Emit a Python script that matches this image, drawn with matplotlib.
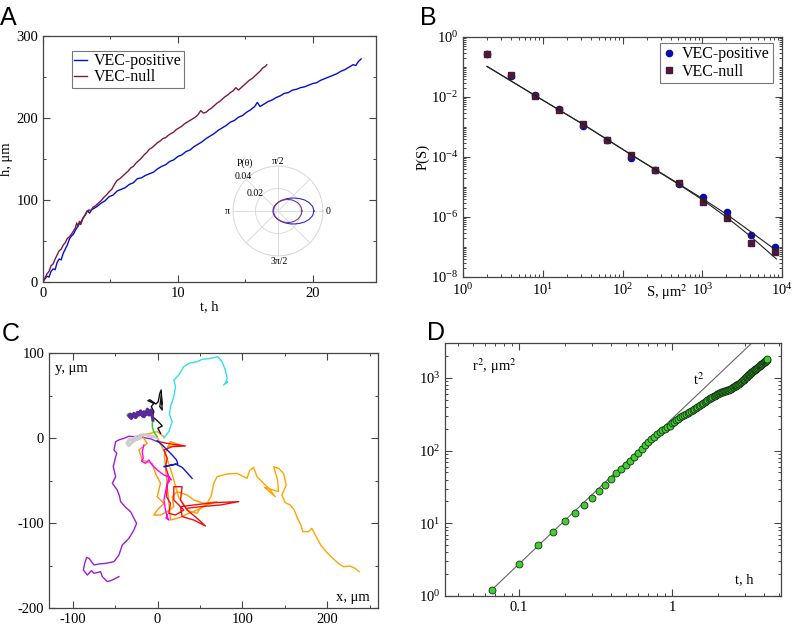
import numpy as np
import matplotlib
matplotlib.use("Agg")
import matplotlib.pyplot as plt
from matplotlib.ticker import MultipleLocator, LogLocator, FixedLocator, NullFormatter

plt.rcParams['font.family'] = ['Liberation Serif', 'DejaVu Serif']
plt.rcParams['mathtext.fontset'] = 'stix'
plt.rcParams['font.size'] = 10.5
plt.rcParams['axes.edgecolor'] = '#444444'
plt.rcParams['axes.linewidth'] = 0.9
plt.rcParams['axes.unicode_minus'] = False

# ---- panel A: height vs time
t_pos = [0, .15, .3, .45, .6, .75, .9, 1.05, 1.2, 1.35, 1.5, 1.65, 1.8, 1.95, 2.1, 2.25, 2.4, 2.55,
         2.7, 2.85, 3.0, 3.15, 3.3, 3.45, 3.6, 3.8, 4.0, 4.3, 4.6, 4.9, 5.2, 5.5, 5.8, 6.1, 6.4,
         6.7, 7.0, 7.3, 7.6, 7.9, 8.2, 8.5, 8.8, 9.1, 9.4, 9.7, 10.0, 10.3, 10.6, 10.9, 11.2,
         11.5, 11.8, 12.1, 12.4, 12.7, 13.0, 13.3, 13.6, 13.9, 14.2, 14.5, 14.8, 15.1, 15.4,
         15.7, 15.9, 16.1, 16.4, 16.7, 17.0, 17.3, 17.6, 17.9, 18.2, 18.5, 18.8, 19.1, 19.4,
         19.7, 20.0, 20.3, 20.6, 20.9, 21.2, 21.5, 21.8, 22.1, 22.4, 22.7, 23.0, 23.2, 23.4, 23.6]
h_pos = [0, 4, 7, 6, 13, 16, 15, 24, 28, 27, 35, 40, 45, 52, 56, 58, 63, 67,
         71, 74, 79, 82, 87, 84, 88, 90, 92, 96, 99, 104, 106, 111, 113, 115, 119,
         121, 126, 127, 130, 132, 134, 138, 141, 143, 147, 149, 153, 155, 159, 161, 165,
         168, 171, 175, 178, 181, 185, 188, 191, 195, 197, 201, 203, 207, 210,
         214, 219, 214, 217, 220, 222, 225, 227, 230, 231, 234, 235, 237, 238,
         240, 242, 243, 246, 248, 250, 252, 254, 257, 259, 262, 265, 264, 269, 272]
t_null = [0, .15, .3, .45, .6, .75, .9, 1.05, 1.2, 1.35, 1.5, 1.65, 1.8, 1.95, 2.1, 2.25, 2.4,
          2.5, 2.6, 2.7, 2.8, 2.95, 3.1, 3.25, 3.4, 3.55, 3.7, 3.9, 4.1, 4.3, 4.5, 4.7, 4.9,
          5.1, 5.3, 5.5, 5.7, 5.9, 6.1, 6.3, 6.5, 6.7, 6.9, 7.1, 7.3, 7.5, 7.7, 7.9, 8.1,
          8.3, 8.5, 8.7, 8.9, 9.1, 9.3, 9.5, 9.7, 9.9, 10.1, 10.3, 10.5, 10.7, 10.9, 11.1,
          11.3, 11.5, 11.7, 11.9, 12.1, 12.3, 12.5, 12.7, 12.9, 13.1, 13.3, 13.5, 13.7, 13.9,
          14.1, 14.3, 14.5, 14.7, 14.9, 15.1, 15.3, 15.5, 15.7, 15.9, 16.1, 16.3, 16.5, 16.6]
h_null = [0, 5, 10, 13, 20, 22, 28, 33, 38, 40, 45, 48, 53, 55, 58, 62, 66,
          72, 68, 74, 70, 77, 81, 86, 88, 87, 91, 93, 96, 99, 103, 106, 110,
          113, 119, 124, 126, 129, 132, 135, 139, 141, 145, 148, 151, 155, 158, 162, 164,
          167, 170, 172, 175, 176, 179, 181, 183, 186, 188, 190, 193, 195, 197, 199,
          201, 204, 209, 206, 207, 210, 212, 215, 218, 220, 223, 226, 228, 231,
          233, 237, 234, 237, 240, 243, 246, 248, 251, 254, 257, 261, 263, 265]

# inset: angular distribution P(theta), read every 7.5 degrees on the upper half
theta_deg = [0, 7.5, 15, 22.5, 30, 37.5, 45, 52.5, 60, 67.5, 75, 82.5, 90, 105, 120, 135, 150, 165, 180]
p_theta_pos = [0.0320, 0.0311, 0.0287, 0.0256, 0.0221, 0.0189, 0.0162, 0.0139, 0.0121, 0.0106,
               0.0094, 0.0084, 0.0076, 0.0064, 0.0056, 0.0050, 0.0047, 0.0045, 0.0044]
p_theta_null = [0.0213, 0.0210, 0.0202, 0.0190, 0.0175, 0.0160, 0.0144, 0.0129, 0.0115, 0.0102,
                0.0091, 0.0082, 0.0074, 0.0061, 0.0052, 0.0046, 0.0042, 0.0040, 0.0039]

# ---- panel B: size distribution
S = [2, 4, 8, 16, 32, 64, 128, 256, 512, 1024, 2048, 4096, 8192]
P_pos = [0.269, 0.0513, 0.01148, 0.00389, 0.001096, 3.72e-4, 9.55e-5, 3.72e-5, 1.23e-5,
         4.68e-6, 1.445e-6, 2.51e-7, 1.0e-7]
P_null = [0.275, 0.0525, 0.01072, 0.0038, 0.00123, 3.72e-4, 1.175e-4, 3.72e-5, 1.38e-5,
          3.16e-6, 9.12e-7, 1.35e-7, 6.76e-8]
S_fit = [2, 8, 32, 128, 512, 1024, 2048, 4096, 8500]
P_fit_pos = [0.1047, 0.01122, 0.00123, 1.202e-4, 1.259e-5, 3.98e-6, 1.202e-6, 3.16e-7, 7.59e-8]
P_fit_null = [0.1047, 0.01122, 0.00123, 1.202e-4, 1.202e-5, 3.63e-6, 9.55e-7, 2.19e-7, 3.98e-8]

# ---- panel C: trajectories (x, y in um)
traj = {
    '#9a1fd0': [(-0.4, -4.3), (-8, -1), (-16.1, 0.4), (-22, 2), (-27.8, 1.6), (-34, 2), (-39.6, -0.4),
                (-45, -2), (-49.4, -4.3), (-51.4, -14.1), (-48, -18), (-49.4, -22), (-52.2, -33.7),
                (-49.4, -45.5), (-53.3, -53.3), (-47.5, -61.2), (-45, -68), (-43.5, -74.9),
                (-37.6, -81.6), (-31.8, -86.7), (-27.8, -94.5), (-24.7, -100.4), (-27.8, -108.2),
                (-33.7, -118), (-41.6, -125.9), (-45.5, -137.6), (-51.4, -145.5), (-61.2, -147.5),
                (-69, -148.2), (-74.9, -149.4), (-80.8, -141.6), (-83.5, -140.4), (-85.9, -147.5),
                (-87.5, -155.3), (-82.7, -161.2), (-78, -156), (-74.9, -159.2), (-67.1, -157.3),
                (-65.1, -163.1), (-59.2, -169), (-53.3, -167.1), (-45.5, -163.1)],
    '#ffa500': [(0, 0), (10, -20), (18, -45), (25, -70), (35, -85), (46.7, -88.6), (50.6, -82.7),
                (58.4, -76.9), (63.1, -69), (66.3, -53.3), (70.2, -45.5), (82, -42.4), (93.7, -41.6),
                (105.5, -47.5), (108.6, -38.4), (113.3, -34.5), (117.3, -45.5), (125.1, -53.3),
                (132.9, -61.2), (138.8, -69), (126, -58), (142.7, -63.1), (141.6, -49.4),
                (136.9, -33.7), (142.7, -35.7), (148.6, -41.6), (151.8, -55.3), (146.7, -67.1),
                (150.6, -76.1), (156.5, -78.8), (161.2, -84.7), (165.1, -94.5), (169, -102.4),
                (171.4, -110.2), (178, -110.2), (182, -106.3), (187.1, -116.1), (192.5, -125.9),
                (198.8, -133.7), (205.5, -140.4), (213.3, -147.5), (219.2, -151.4), (227.1, -150.6),
                (232.9, -153.3), (238, -157.3)],
    '#ff9900': [(7.5, 1.6), (-0.4, 7.5), (-8.2, 5.5), (-18, 3.5), (-16.1, -0.4), (-12.2, -6.3),
                (-22, -14.1), (-18, -25.9), (-6.3, -29.8), (-2.4, -41.6), (3.5, -53.3), (-0.4, -69),
                (7.5, -76.9), (-0.4, -84.7), (-4.3, -90.6), (3.5, -90.6), (11.4, -86.7),
                (19.2, -80.8), (17.3, -69), (23.1, -63.1), (34.9, -67.1), (42.7, -72.9),
                (54.5, -76.9), (70.2, -74.9), (58.4, -78.8), (46.7, -84.7), (34.9, -89.4),
                (27.1, -93.3), (15.3, -96.5), (8, -20), (15.3, -4.3), (27.1, -8.2), (12, -10)],
    '#ee1111': [(1.6, -4.3), (11.4, -6.3), (32.9, -9.4), (17.3, -10.2), (7.5, -14.1), (11.4, -23.9),
                (9.4, -33.7), (13.3, -45.5), (11.4, -57.3), (10.6, -69), (15.3, -76.9),
                (13.3, -88.6), (21.2, -90.6), (31, -84.7), (19.2, -72.9), (19.2, -57.3),
                (29, -57.3), (27.1, -72.9), (34.9, -84.7), (46.7, -94.5), (56.5, -103.5),
                (42.7, -96.5), (29, -92.5), (27.1, -80.8), (42.7, -78.8), (66.3, -76.1),
                (95.7, -74.9), (74.1, -78.8), (50.6, -80.8), (34.9, -82.7)],
    '#ff00ff': [(-16.1, -8.2), (-18, -16.1), (-16.9, -23.9), (-19, -27), (-14.1, -29.8),
                (-10.2, -25.9), (-6.3, -31.8), (-0.4, -37.6), (7.5, -43.5), (13.3, -45.5),
                (16.1, -49.4), (12, -44), (14, -51), (11.4, -53.3), (9.4, -63.1), (7.5, -72.9),
                (9.4, -84.7), (11.4, -92.5), (13.3, -96.5), (10, -94), (11.4, -90.6)],
    '#0a1acc': [(-0.4, -3.1), (5.5, -8.2), (11.4, -14.1), (17.3, -20), (22.4, -25.9), (23.9, -30.6),
                (17.3, -31.8), (7.5, -33.7), (21.2, -30.6), (29, -34.5), (34.9, -40.8),
                (40.8, -47.5)],
    '#33ddee': [(7.5, 0), (13.3, 7.5), (17.3, 19.2), (14, 28), (15.3, 36.9), (19.2, 48.6),
                (21.2, 60.4), (19.2, 68.2), (25.1, 74.1), (31, 83.9), (36.9, 87.8), (46.7, 89.8),
                (52.6, 92.5), (62.4, 93.7), (71, 95.7), (76.1, 89.8), (80, 80), (82, 70.2),
                (80, 64.3), (82.7, 66.3), (78, 62.4)],
    '#111111': [(3.5, 5.5), (0.4, 11.4), (5.5, 14.1), (2.7, 17.3), (-1.2, 21.2), (-6.3, 25.1),
                (-4.3, 31), (-7.4, 36.9), (-4.3, 40.8), (-11.4, 43.9), (-9, 45), (-2, 40),
                (0.8, 42.7), (2.7, 52.6), (4.3, 56.5), (5.5, 32.9), (2.7, 36.9), (4.5, 50), (5, 40)],
    '#cccccc': [(-2, 1), (-8, 2), (-14, 4), (-20, 3.5), (-24, -1), (-26, 1), (-30, -3), (-33, -1),
                (-36, -6), (-34, -9), (-30, -5), (-26, -2), (-20, 0)],
    '#22cc22': [(-0.4, 1.6), (-3, 5), (-4.3, 7.5), (-6, 12), (-6.3, 17.3), (-5, 20), (-7.4, 25.1),
                (-9, 30), (-12.2, 32.2), (-16, 30), (-20, 31), (-23.9, 29.8), (-28, 28),
                (-33.7, 29), (-36, 27)],
    '#5a2a9a': [(-5.5, 21), (-6.3, 27), (-8, 33), (-10, 30), (-12, 34), (-14, 28), (-16, 31),
                (-18, 26), (-20, 32), (-22, 27), (-24, 30), (-26, 24), (-28, 29), (-30, 25),
                (-32, 28), (-34, 26), (-31, 23), (-28, 27), (-25, 25), (-22, 30), (-19, 28),
                (-16, 25), (-13, 29), (-10, 27), (-7, 31)],
}

# ---- panel D: mean square displacement, one point every 2 min
frames = np.arange(2, 127)
r2 = [1.22, 2.73, 4.98, 7.6, 10.8, 14.0, 17.7, 22.5, 27.6, 33.3, 40.7, 49.3, 56.5, 64.2, 72,
      81.8, 92.9, 104, 118, 130, 143, 155, 167, 178, 189, 199, 209, 219, 236, 248,
      261, 274, 287, 298, 308, 319, 330, 340, 350, 361, 372, 383, 395, 410, 425,
      439, 452, 466, 480, 494, 508, 522, 534, 546, 558, 571, 584, 596, 605, 613,
      622, 630, 639, 647, 655, 662, 669, 676, 683, 690, 698, 712, 727, 741, 756,
      770, 782, 795, 808, 822, 836, 851, 866, 886, 907, 928, 949, 970, 995, 1018,
      1040, 1060, 1081, 1102, 1122, 1143, 1164, 1187, 1210, 1233, 1256, 1278, 1300, 1322, 1343,
      1365, 1388, 1410, 1433, 1455, 1478, 1503, 1524, 1545, 1566, 1588, 1610, 1632, 1655, 1677,
      1700, 1724, 1748, 1772, 1800]
t_msd = frames / 30.0
t_line = [0.0667, 5.0]
r2_line = [1.22, 6850]


def style(ax):
    ax.tick_params(which='both', direction='in', top=True, right=True, colors='#444444',
                   labelcolor='black', labelsize=10.5)
    ax.tick_params(which='major', length=5, width=0.8)
    ax.tick_params(which='minor', length=2.5, width=0.7)


def px(x, y):
    # figure pixel (from top-left) to figure fraction
    return x / 802, 1 - y / 625


fig = plt.figure(figsize=(8.02, 6.25), dpi=100)

# A
ax = fig.add_axes([0.0536, 0.5488, 0.4152, 0.3936])
ax.plot(t_pos, h_pos, color='#0010d0', lw=1, label='VEC-positive')
ax.plot(t_null, h_null, color='#7a1a45', lw=1, label='VEC-null')
ax.set_xlim(0, 24.7)
ax.set_ylim(0, 300)
ax.xaxis.set_major_locator(MultipleLocator(10))
ax.xaxis.set_minor_locator(MultipleLocator(5))
ax.yaxis.set_major_locator(MultipleLocator(100))
ax.yaxis.set_minor_locator(MultipleLocator(50))
ax.set_xlabel('t, h', labelpad=0)
ax.set_ylabel('h, μm', labelpad=2)
style(ax)
leg = ax.legend(loc='upper left', bbox_to_anchor=(0.087, 0.939), fontsize=11.5, handlelength=0.8,
                fancybox=False, edgecolor='#555555', borderaxespad=0, borderpad=0.15,
                labelspacing=0.0, handletextpad=0.4)
leg.get_frame().set_linewidth(0.8)

axp = fig.add_axes([0.2905, 0.5904, 0.1122, 0.144], projection='polar')
th = np.deg2rad(theta_deg + [360 - a for a in theta_deg[-2::-1]])
axp.plot(th, p_theta_pos + p_theta_pos[-2::-1], color='#2a2ad0', lw=0.8)
axp.plot(th, p_theta_null + p_theta_null[-2::-1], color='#7a3a8a', lw=0.8)
axp.set_rlim(0, 0.04)
axp.set_rticks([0.02, 0.04])
axp.set_yticklabels([])
axp.set_thetagrids(range(0, 360, 45), [''] * 8)
axp.grid(color='#d8d8d8', lw=0.6)
axp.spines['polar'].set_color('#d8d8d8')
axp.spines['polar'].set_linewidth(0.6)
axp.patch.set_alpha(0)
for s, x, y in [('P(θ)', 244.7, 162.7), ('0.04', 243.7, 176), ('0.02', 254.7, 194),
                ('π/2', 278, 161.7), ('0', 327.7, 211), ('π', 227, 211), ('3π/2', 279, 261.7)]:
    fig.text(*px(x, y), s, fontsize=7, ha='center', va='center')

# B
ax = fig.add_axes([0.5773, 0.5568, 0.3978, 0.384])
ax.loglog(S, P_pos, 'o', color='#0c0ca8', ms=4.5, label='VEC-positive')
ax.loglog(S, P_null, 's', color='#4e1838', ms=4, label='VEC-null')
ax.loglog(S_fit, P_fit_pos, color='#222222', lw=0.8)
ax.loglog(S_fit, P_fit_null, color='#222222', lw=0.8)
ax.set_xlim(1, 1e4)
ax.set_ylim(1e-8, 1)
ax.xaxis.set_major_locator(LogLocator(base=10, numticks=10))
ax.xaxis.set_minor_locator(LogLocator(base=10, subs=np.arange(2, 10), numticks=10))
ax.xaxis.set_minor_formatter(NullFormatter())
ax.yaxis.set_major_locator(LogLocator(base=100, numticks=10))
ax.yaxis.set_minor_locator(LogLocator(base=10, subs=np.arange(1, 10), numticks=20))
ax.yaxis.set_minor_formatter(NullFormatter())
ax.set_xlabel('S, μm$^2$')
ax.xaxis.set_label_coords(0.64, -0.022)
ax.set_ylabel('P(S)', labelpad=1)
style(ax)
leg = ax.legend(loc='upper right', bbox_to_anchor=(0.972, 0.975), fontsize=11.5, handlelength=0.8,
                fancybox=False, edgecolor='#555555', borderaxespad=0, borderpad=0.2,
                labelspacing=0.1, handletextpad=0.4)
leg.get_frame().set_linewidth(0.8)

# C
ax = fig.add_axes([0.0611, 0.0272, 0.4102, 0.408])
for col, pts in traj.items():
    xs = [p[0] for p in pts]
    ys = [p[1] for p in pts]
    lw = 2.2 if col in ('#cccccc', '#5a2a9a') else 1.0
    ax.plot(xs, ys, color=col, lw=lw)
ax.set_xlim(-128, 260)
ax.set_ylim(-200, 100)
ax.xaxis.set_major_locator(MultipleLocator(100))
ax.xaxis.set_minor_locator(MultipleLocator(50))
ax.yaxis.set_major_locator(MultipleLocator(100))
ax.yaxis.set_minor_locator(MultipleLocator(50))
ax.text(0.018, 0.94, 'y, μm', transform=ax.transAxes, ha='left', va='center', fontsize=10.5)
ax.text(0.976, 0.043, 'x, μm', transform=ax.transAxes, ha='right', va='center', fontsize=10.5)
style(ax)

# D
ax = fig.add_axes([0.5549, 0.0464, 0.419, 0.4048])
ax.loglog(t_line, r2_line, color='#666666', lw=0.8)
ax.loglog(t_msd, r2, 'o', mfc='#44cc33', mec='#113311', mew=0.6, ms=5)
ax.set_xlim(0.033, 5.15)
ax.set_ylim(1, 3020)
ax.xaxis.set_major_locator(FixedLocator([0.1, 1]))
ax.set_xticklabels(['0.1', '1'])
ax.xaxis.set_minor_locator(LogLocator(base=10, subs=np.arange(2, 10), numticks=10))
ax.xaxis.set_minor_formatter(NullFormatter())
ax.yaxis.set_major_locator(LogLocator(base=10, numticks=10))
ax.yaxis.set_minor_locator(LogLocator(base=10, subs=np.arange(2, 10), numticks=10))
ax.yaxis.set_minor_formatter(NullFormatter())
ax.text(0.08, 0.91, 'r$^2$, μm$^2$', transform=ax.transAxes, ha='left', va='center', fontsize=10.5)
ax.text(0.738, 0.855, 't$^2$', transform=ax.transAxes, ha='left', va='center', fontsize=10.5)
ax.text(0.863, 0.063, 't, h', transform=ax.transAxes, ha='left', va='center', fontsize=10.5)
style(ax)

# panel letters
for lab, x, y in [('A', 0, 25), ('B', 420, 25), ('C', 2, 341), ('D', 427, 340)]:
    fig.text(*px(x, y), lab, fontsize=18, family='Liberation Sans', ha='left', va='baseline')

fig.savefig('out.png', dpi=100)
